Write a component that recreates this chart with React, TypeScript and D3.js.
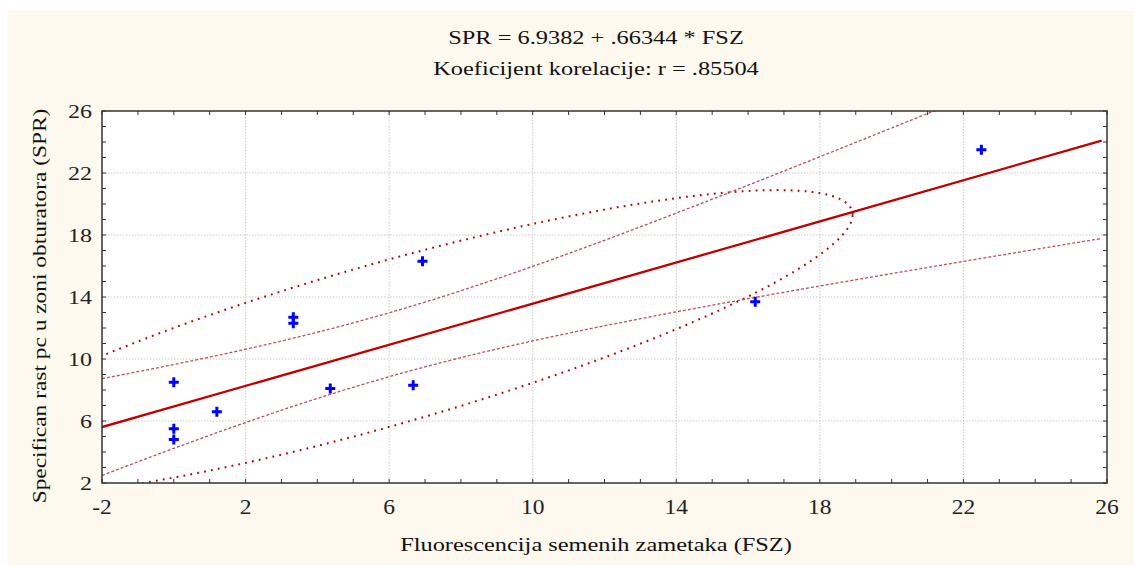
import React from 'react';
import * as d3 from 'd3';

// ---- data ----
const fsz = [0, 0, 0, 1.2, 3.33, 3.33, 4.36, 6.67, 6.93, 16.2, 22.5];
const spr = [8.5, 5.5, 4.8, 6.6, 12.7, 12.3, 8.1, 8.3, 16.3, 13.7, 23.5];
const intercept = 6.9382;
const slope = 0.66344;
const rCoef = 0.85504;
const xTicks = [-2, 2, 6, 10, 14, 18, 22, 26];
const yTicks = [2, 6, 10, 14, 18, 22, 26];
const xDomain = [-2, 26];
const yDomain = [2, 26];
const lineEnd = 25.85;
const tCrit = 2.262; // t(0.975, n-2)
const ellipseK = 1.8;
const ellipseR = 0.84;

const titleLine1 = 'SPR = 6.9382 + .66344 * FSZ';
const titleLine2 = 'Koeficijent korelacije: r = .85504';
const xTitle = 'Fluorescencija semenih zametaka (FSZ)';
const yTitle = 'Specifican rast pc u zoni obturatora (SPR)';

const W = 1134;
const H = 567;
const L = 102, R = 1107, T = 111, B = 483;
const FONT = '"Liberation Serif", "Times New Roman", serif';

export default function App() {
  const x = d3.scaleLinear().domain(xDomain).range([L, R]);
  const y = d3.scaleLinear().domain(yDomain).range([B, T]);

  const n = fsz.length;
  const mx = d3.mean(fsz) as number;
  const my = d3.mean(spr) as number;
  const sx = d3.deviation(fsz) as number;
  const sy = d3.deviation(spr) as number;
  const sxx = d3.sum(fsz, (v) => (v - mx) * (v - mx));
  const syy = d3.sum(spr, (v) => (v - my) * (v - my));
  const s = Math.sqrt(((1 - rCoef * rCoef) * syy) / (n - 2));
  const fit = (v: number) => intercept + slope * v;
  const hw = (v: number) => tCrit * s * Math.sqrt(1 / n + ((v - mx) * (v - mx)) / sxx);

  const xs = d3.range(xDomain[0], lineEnd + 0.001, 0.05);
  const line = d3.line<[number, number]>().x((d) => x(d[0])).y((d) => y(d[1]));
  const regPath = line([[xDomain[0], fit(xDomain[0])], [lineEnd, fit(lineEnd)]]) as string;
  const upperPath = line(xs.map((v) => [v, fit(v) + hw(v)] as [number, number])) as string;
  const lowerPath = line(xs.map((v) => [v, fit(v) - hw(v)] as [number, number])) as string;

  const q = Math.sqrt(1 - ellipseR * ellipseR);
  const ts = d3.range(0, Math.PI * 2, 0.01);
  const ellPts = ts.map((t) => [
    mx + ellipseK * sx * Math.cos(t),
    my + ellipseK * sy * (ellipseR * Math.cos(t) + q * Math.sin(t)),
  ] as [number, number]);
  const ellPath = d3.line<[number, number]>().x((d) => x(d[0])).y((d) => y(d[1])).curve(d3.curveLinearClosed)(ellPts) as string;

  const minorX = d3.range(xDomain[0], xDomain[1] + 0.001, 1);
  const minorY = d3.range(yDomain[0], yDomain[1] + 0.001, 1);
  const tk = 4;
  const midX = 596;

  return (
    <svg width={W} height={H} style={{ position: 'absolute', left: 0, top: 0, display: 'block' }}>
      <rect x={0} y={0} width={W} height={H} fill="#ffffff" />
      <rect x={8} y={10} width={W - 8} height={555} fill="#fef9ee" />
      <defs>
        <clipPath id="plotClip">
          <rect x={L} y={T} width={R - L} height={B - T} />
        </clipPath>
      </defs>
      <rect x={L} y={T} width={R - L} height={B - T} fill="#ffffff" />

      {/* grid */}
      <g stroke="#c9c9c9" strokeWidth={1} strokeDasharray="1.5,1.5">
        {xTicks.slice(1, -1).map((v) => (
          <line key={'gx' + v} x1={x(v)} x2={x(v)} y1={T} y2={B} />
        ))}
        {yTicks.slice(1, -1).map((v) => (
          <line key={'gy' + v} x1={L} x2={R} y1={y(v)} y2={y(v)} />
        ))}
      </g>

      <g clipPath="url(#plotClip)" fill="none">
        <path d={ellPath} stroke="#b00000" strokeWidth={2} strokeDasharray="1.8,5.2" />
        <path d={upperPath} stroke="#b9505c" strokeWidth={1.3} strokeDasharray="3,2" />
        <path d={lowerPath} stroke="#b9505c" strokeWidth={1.3} strokeDasharray="3,2" />
        <path d={regPath} stroke="#c00000" strokeWidth={2.3} />
      </g>

      {/* points */}
      <g stroke="#0000ff" strokeWidth={3}>
        {fsz.map((v, i) => (
          <path key={'p' + i} d={`M${x(v) - 5},${y(spr[i])}h10M${x(v)},${y(spr[i]) - 5}v10`} />
        ))}
      </g>

      {/* ticks */}
      <g stroke="#333" strokeWidth={1}>
        {minorX.map((v) => (
          <g key={'tx' + v}>
            <line x1={x(v)} x2={x(v)} y1={B} y2={B - tk} />
            <line x1={x(v)} x2={x(v)} y1={T} y2={T + tk} />
          </g>
        ))}
        {minorY.map((v) => (
          <g key={'ty' + v}>
            <line x1={L} x2={L + tk} y1={y(v)} y2={y(v)} />
            <line x1={R} x2={R - tk} y1={y(v)} y2={y(v)} />
          </g>
        ))}
      </g>
      <rect x={L} y={T} width={R - L} height={B - T} fill="none" stroke="#333" strokeWidth={1.5} />

      {/* tick labels */}
      <g fontFamily={FONT} fill="#222">
        {xTicks.map((v) => (
          <text key={'lx' + v} transform={`translate(${x(v)},${514}) scale(1.12,1)`} textAnchor="middle" fontSize={21}>
            {v}
          </text>
        ))}
        {yTicks.map((v) => (
          <text key={'ly' + v} transform={`translate(${92},${y(v) + 6.5}) scale(1.3,1)`} textAnchor="end" fontSize={18.5}>
            {v}
          </text>
        ))}
      </g>

      {/* titles */}
      <g fontFamily={FONT} fill="#111">
        <text transform={`translate(${midX},44) scale(1.25,1)`} textAnchor="middle" fontSize={19.5}>{titleLine1}</text>
        <text transform={`translate(${midX},75) scale(1.25,1)`} textAnchor="middle" fontSize={19.5}>{titleLine2}</text>
        <text transform={`translate(${midX},551) scale(1.25,1)`} textAnchor="middle" fontSize={19.5}>{xTitle}</text>
        <text transform={`translate(46,306) rotate(-90) scale(1.2,1)`} textAnchor="middle" fontSize={19.5}>{yTitle}</text>
      </g>
    </svg>
  );
}
